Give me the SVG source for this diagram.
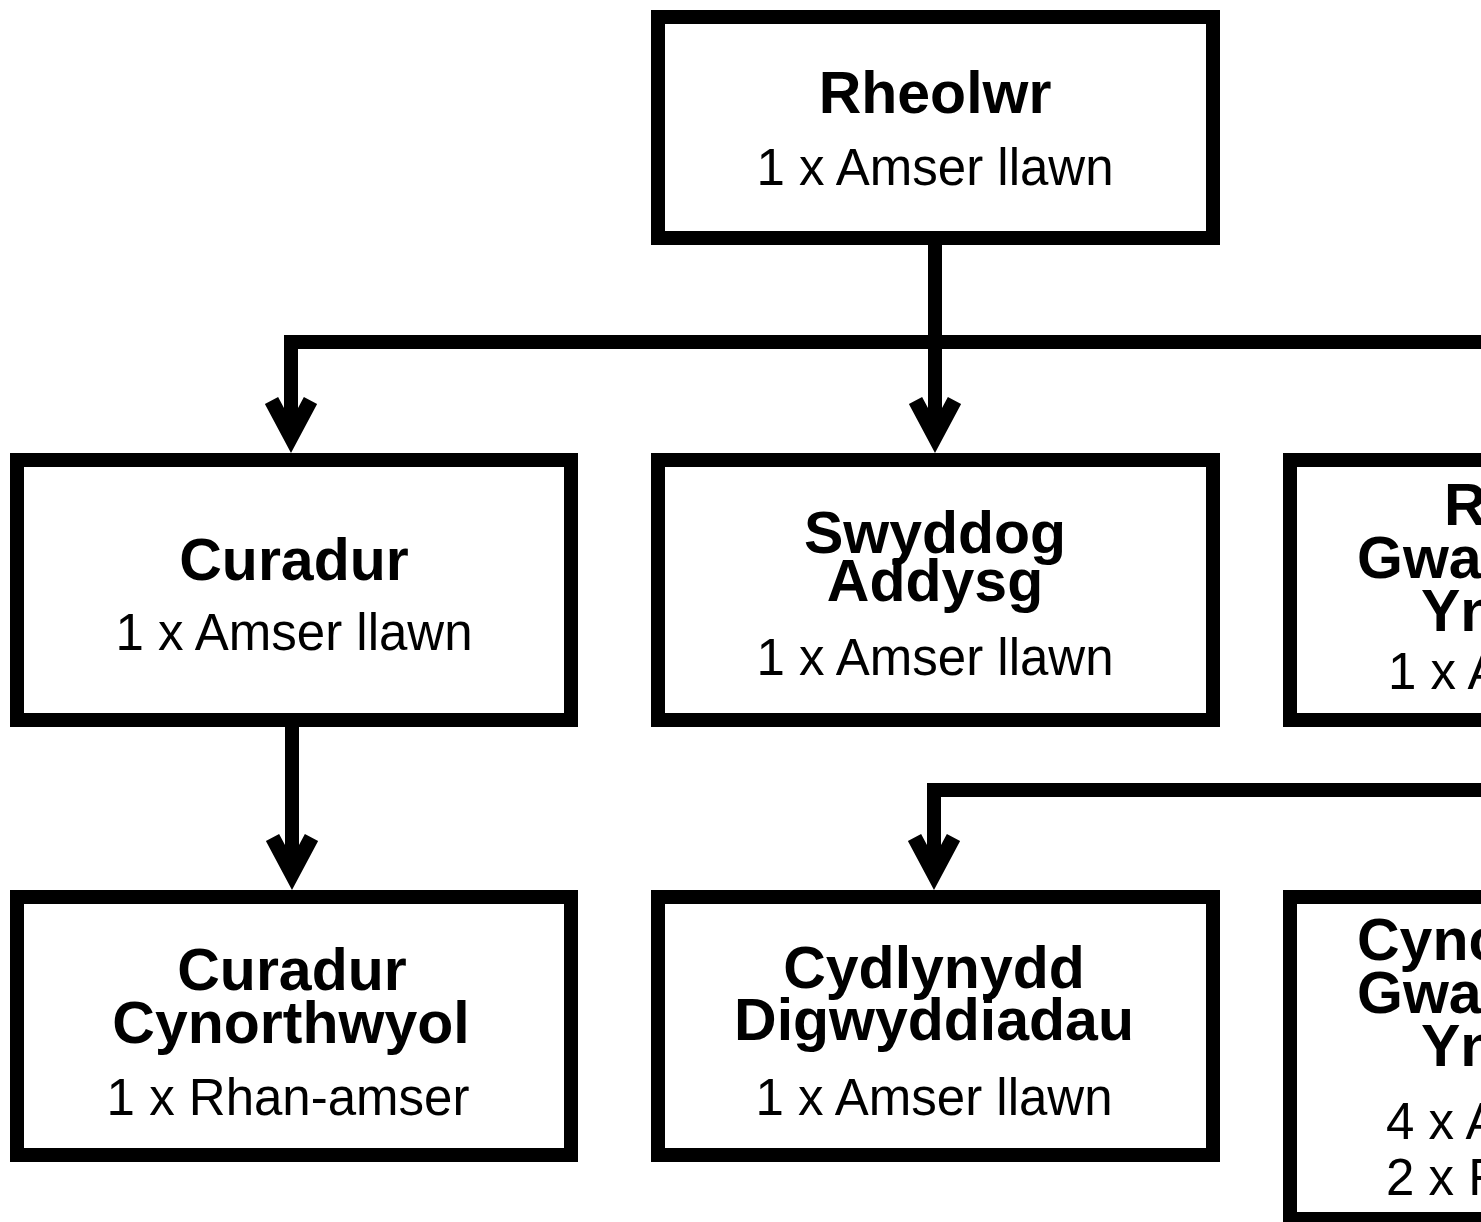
<svg xmlns="http://www.w3.org/2000/svg" width="1481" height="1222" viewBox="0 0 1481 1222">
<style>
.box{fill:#fff;stroke:#000;stroke-width:14}
.ln{fill:none;stroke:#000;stroke-width:14;stroke-linejoin:miter}
.arr{fill:none;stroke:#000;stroke-width:15;stroke-linejoin:miter;stroke-miterlimit:6}
.t{font-family:"Liberation Sans",Arial,sans-serif;font-weight:bold;font-size:59px;fill:#000;text-anchor:middle}
.s{font-family:"Liberation Sans",Arial,sans-serif;font-size:51px;fill:#000;text-anchor:middle}
.ts{font-family:"Liberation Sans",Arial,sans-serif;font-weight:bold;font-size:59px;fill:#000}
.ss{font-family:"Liberation Sans",Arial,sans-serif;font-size:51px;fill:#000}
</style>
<rect width="1481" height="1222" fill="#fff"/>
<g id="connectors">
<path class="ln" d="M935,245 V437"/>
<path class="ln" d="M291,437 V342 H1500"/>
<path class="ln" d="M292,727 V874"/>
<path class="ln" d="M934,874 V790 H1500"/>
<path class="arr" d="M271.5,400.5 L291,437 L310.5,400.5"/>
<path class="arr" d="M915.5,400.5 L935,437 L954.5,400.5"/>
<path class="arr" d="M272.5,837.5 L292,874 L311.5,837.5"/>
<path class="arr" d="M914.5,837.5 L934,874 L953.5,837.5"/>
</g>
<g id="rheolwr">
<rect class="box" x="658" y="17" width="555" height="221"/>
<text class="t" x="935" y="113">Rheolwr</text>
<text class="s" x="935" y="185">1 x Amser llawn</text>
</g>
<g id="curadur">
<rect class="box" x="17" y="460" width="554" height="260"/>
<text class="t" x="294" y="580">Curadur</text>
<text class="s" x="294" y="650">1 x Amser llawn</text>
</g>
<g id="swyddog">
<rect class="box" x="658" y="460" width="555" height="260"/>
<text class="t" x="935" y="553">Swyddog</text>
<text class="t" x="935" y="601">Addysg</text>
<text class="s" x="935" y="675">1 x Amser llawn</text>
</g>
<g id="right-top">
<rect class="box" x="1290" y="460" width="400" height="260"/>
<text class="ts" x="1444" y="525">R</text>
<text class="ts" x="1357" y="578">Gwa</text>
<text class="ts" x="1421" y="631">Yn</text>
<text class="ss" x="1388" y="689">1 x A</text>
</g>
<g id="curadur-cynorthwyol">
<rect class="box" x="17" y="897" width="554" height="258"/>
<text class="t" x="292" y="990">Curadur</text>
<text class="t" x="291" y="1043">Cynorthwyol</text>
<text class="s" x="288" y="1115">1 x Rhan-amser</text>
</g>
<g id="cydlynydd">
<rect class="box" x="658" y="897" width="555" height="258"/>
<text class="t" x="934" y="988">Cydlynydd</text>
<text class="t" x="934" y="1040">Digwyddiadau</text>
<text class="s" x="934" y="1115">1 x Amser llawn</text>
</g>
<g id="right-bottom">
<rect class="box" x="1290" y="897" width="400" height="322"/>
<text class="ts" x="1357" y="960">Cync</text>
<text class="ts" x="1357" y="1013">Gwa</text>
<text class="ts" x="1421" y="1066">Yn</text>
<text class="ss" x="1386" y="1139">4 x A</text>
<text class="ss" x="1386" y="1195">2 x F</text>
</g>
</svg>
